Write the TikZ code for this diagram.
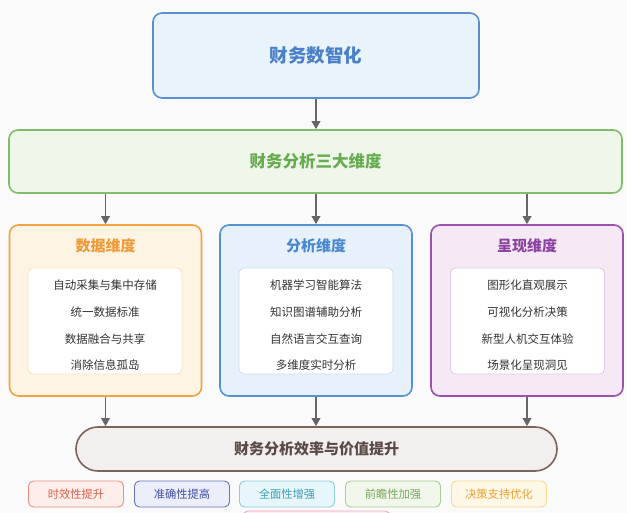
\documentclass[tikz,border=0pt]{standalone}
\usepackage{fontspec}
\setmainfont{Noto Sans CJK SC}
\usetikzlibrary{arrows.meta}
\definecolor{bgc}{HTML}{FAFAFA}
\definecolor{topfill}{HTML}{E8F3FC}\definecolor{topdraw}{HTML}{5B8FD2}\definecolor{toptext}{HTML}{4A80C8}
\definecolor{grfill}{HTML}{EEF7E9}\definecolor{grdraw}{HTML}{80BC6C}\definecolor{grtext}{HTML}{68AC52}
\definecolor{orfill}{HTML}{FEF4E4}\definecolor{ordraw}{HTML}{F2A444}\definecolor{ortext}{HTML}{F09A38}\definecolor{orin}{HTML}{FBE3BE}
\definecolor{blfill}{HTML}{E7F1FB}\definecolor{bldraw}{HTML}{5592D2}\definecolor{bltext}{HTML}{4A88CE}\definecolor{blin}{HTML}{C6DDF3}
\definecolor{pufill}{HTML}{F6E9F6}\definecolor{pudraw}{HTML}{9A52AA}\definecolor{putext}{HTML}{8C42A0}\definecolor{puin}{HTML}{E2C8E8}
\definecolor{stfill}{HTML}{F3EFEF}\definecolor{stdraw}{HTML}{7A645C}\definecolor{sttext}{HTML}{5A4A46}
\definecolor{arr}{HTML}{666666}
\definecolor{t1f}{HTML}{FDEEEB}\definecolor{t1d}{HTML}{E8927F}\definecolor{t1t}{HTML}{D8604C}
\definecolor{t2f}{HTML}{ECEEF9}\definecolor{t2d}{HTML}{6A72C2}\definecolor{t2t}{HTML}{4250A8}
\definecolor{t3f}{HTML}{E6F6FA}\definecolor{t3d}{HTML}{8ECDDD}\definecolor{t3t}{HTML}{3E9EB6}
\definecolor{t4f}{HTML}{F1F7EA}\definecolor{t4d}{HTML}{AACD92}\definecolor{t4t}{HTML}{7AA85E}
\definecolor{t5f}{HTML}{FFF8E6}\definecolor{t5d}{HTML}{F5D98F}\definecolor{t5t}{HTML}{F0A030}
\definecolor{t6d}{HTML}{F0A8C0}\definecolor{t6f}{HTML}{FDEFF4}
\begin{document}
\begin{tikzpicture}[x=1pt,y=-1pt,
  bigbox/.style={rectangle,rounded corners=9pt,line width=1.6pt,inner sep=0pt},
  dimbox/.style={rectangle,rounded corners=9pt,line width=1.6pt,minimum width=192pt,minimum height=171pt,inner sep=0pt},
  innerbox/.style={rectangle,rounded corners=5pt,line width=0.8pt,fill=white,minimum width=154pt,minimum height=106pt,inner sep=0pt},
  dimtitle/.style={font=\fontsize{15}{18}\selectfont\bfseries,inner sep=0pt},
  item/.style={font=\fontsize{11.5}{14}\selectfont,text=black!80,inner sep=0pt},
  tag/.style={rectangle,rounded corners=5pt,line width=0.9pt,minimum width=95pt,minimum height=26pt,inner sep=0pt,font=\fontsize{11.3}{13}\selectfont},
  arrow/.style={draw=arr,line width=1.8pt,-{Triangle[length=8pt,width=8.5pt]}}
]
\useasboundingbox (0,0) rectangle (627,513);
\fill[bgc] (0,0) rectangle (627,513);
\begin{scope}
\clip (0,0) rectangle (627,513);
\draw[t6d,fill=t6f,line width=0.9pt,rounded corners=5pt] (243,511) rectangle (390,537);
\end{scope}

\node[bigbox,draw=topdraw,fill=topfill,minimum width=326pt,minimum height=85pt] (top) at (316,55.5) {};
\node[text=toptext,font=\fontsize{18.5}{22}\selectfont\bfseries,inner sep=0pt] (toplbl) at (top.center) {财务数智化};

\node[bigbox,draw=grdraw,fill=grfill,minimum width=613pt,minimum height=63pt] (green) at (315.5,161.5) {};
\node[text=grtext,font=\fontsize{16.5}{20}\selectfont\bfseries,inner sep=0pt] (greenlbl) at (green.center) {财务分析三大维度};

% dimension boxes
\node[dimbox,draw=ordraw,fill=orfill] (d1) at (105.5,310.5) {};
\node[dimbox,draw=bldraw,fill=blfill] (d2) at (316,310.5) {};
\node[dimbox,draw=pudraw,fill=pufill] (d3) at (527,310.5) {};

\node[dimtitle,text=ortext] (d1t) at (105.5,246) {数据维度};
\node[dimtitle,text=bltext] (d2t) at (316,246) {分析维度};
\node[dimtitle,text=putext] (d3t) at (527,246) {呈现维度};

\node[innerbox,draw=orin] (i1) at (105,321) {};
\node[innerbox,draw=blin] (i2) at (316,321) {};
\node[innerbox,draw=puin] (i3) at (527.5,321) {};

\node[item] (a1) at (105,285) {自动采集与集中存储};
\node[item] (a2) at (105,312) {统一数据标准};
\node[item] (a3) at (105,339) {数据融合与共享};
\node[item] (a4) at (105,365) {消除信息孤岛};

\node[item] (b1) at (316,285) {机器学习智能算法};
\node[item] (b2) at (316,312) {知识图谱辅助分析};
\node[item] (b3) at (316,339) {自然语言交互查询};
\node[item] (b4) at (316,365) {多维度实时分析};

\node[item] (c1) at (527.5,285) {图形化直观展示};
\node[item] (c2) at (527.5,312) {可视化分析决策};
\node[item] (c3) at (527.5,339) {新型人机交互体验};
\node[item] (c4) at (527.5,365) {场景化呈现洞见};

% bottom stadium
\node[rectangle,rounded corners=22pt,line width=1.6pt,draw=stdraw,fill=stfill,minimum width=481pt,minimum height=44pt,inner sep=0pt] (res) at (316.5,449) {};
\node[text=sttext,font=\fontsize{15}{18}\selectfont\bfseries,inner sep=0pt] (reslbl) at (res.center) {财务分析效率与价值提升};

% tags
\node[tag,draw=t1d,fill=t1f,text=t1t] (g1) at (76,494) {时效性提升};
\node[tag,draw=t2d,fill=t2f,text=t2t] (g2) at (182,494) {准确性提高};
\node[tag,draw=t3d,fill=t3f,text=t3t] (g3) at (287,494) {全面性增强};
\node[tag,draw=t4d,fill=t4f,text=t4t] (g4) at (393,494) {前瞻性加强};
\node[tag,draw=t5d,fill=t5f,text=t5t] (g5) at (499,494) {决策支持优化};

% arrows
\draw[arrow] (top.south) -- (top.south |- green.north);
\foreach \d in {d1,d2,d3}{
  \draw[arrow] (green.south -| \d.north) -- (\d.north);
  \draw[arrow] (\d.south) -- (\d.south |- res.north);
}
\end{tikzpicture}
\end{document}
